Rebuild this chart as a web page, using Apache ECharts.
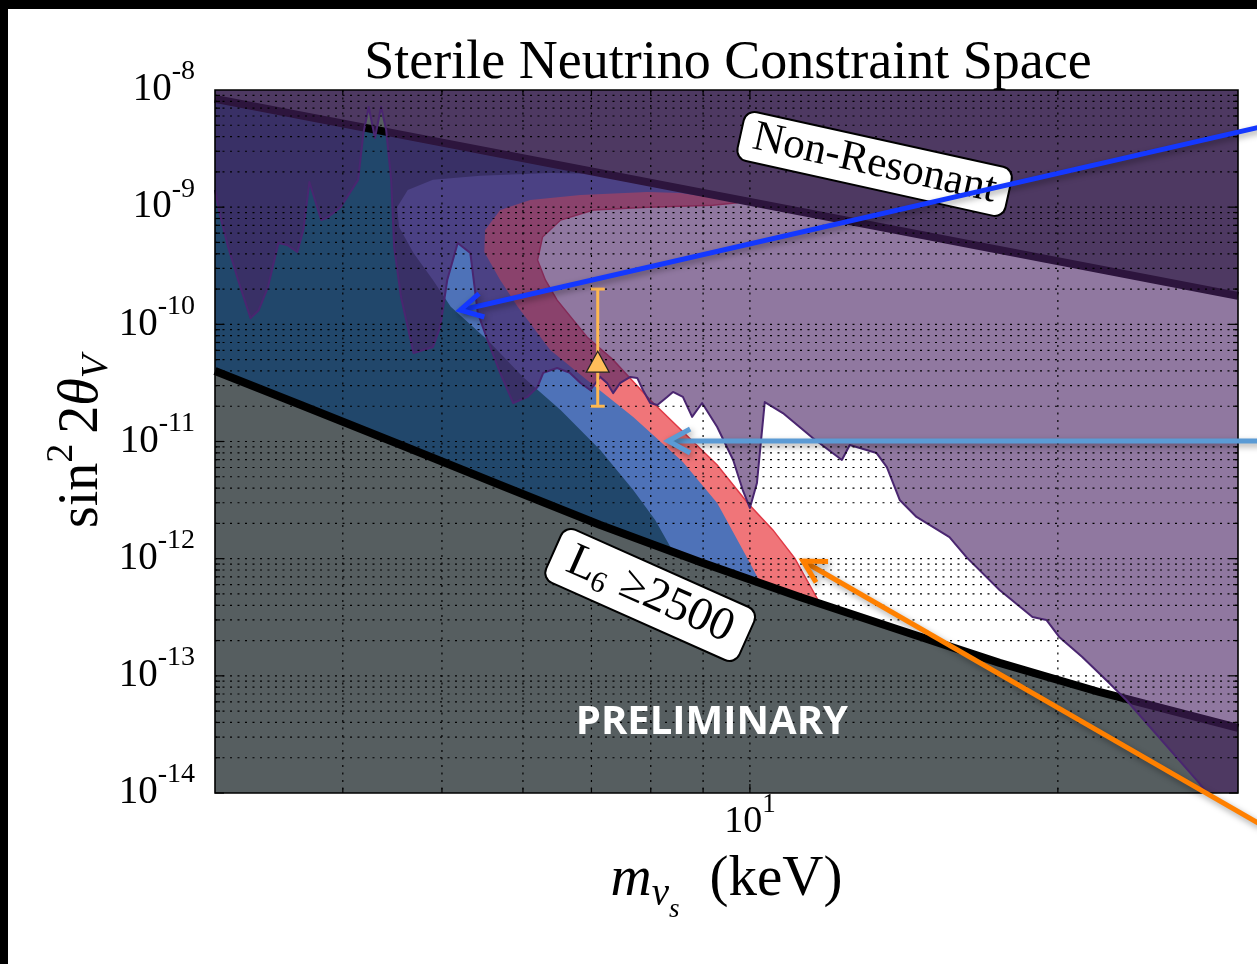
<!DOCTYPE html>
<html>
<head>
<meta charset="utf-8">
<script src="https://cdn.jsdelivr.net/npm/echarts@6.0.0/dist/echarts.min.js"></script>
<style>
html,body{margin:0;padding:0;background:#fff;}
#chart{position:absolute;left:0;top:0;width:1257px;height:964px;}
.bar{position:absolute;background:#000;z-index:5;}
</style>
</head>
<body>
<div id="chart"></div>
<div class="bar" style="left:0;top:0;width:1257px;height:9px"></div>
<div class="bar" style="left:0;top:0;width:8px;height:964px"></div>
<script>
// ---------------- data (mass m in keV, mixing sin^2 2θ) ----------------
const xRange = [3, 30];
const yRange = [1e-14, 1e-8];
const xGridValues = [4, 5, 6, 7, 8, 9, 10, 20];
const xMajorValues = [10];
const xLabelValues = [10];
const yDecades = [-14, -13, -12, -11, -10, -9];
const yMantissas = [1, 2, 3, 4, 5, 6, 7, 8, 9];

// Non-resonant production boundary (excluded above)
const nonResonantBoundary = [[3, 8.4e-9], [30, 1.75e-10]];
// L6 >= 2500 boundary (excluded below)
const l6Boundary = [[3.0, 4.0e-11], [3.64, 2.05e-11], [4.56, 9.33e-12], [5.70, 4.25e-12], [7.14, 1.94e-12],
  [8.94, 9.37e-13], [11.19, 4.71e-13], [14.01, 2.46e-13], [17.54, 1.29e-13], [21.95, 7.28e-14], [30, 3.59e-14]];
// X-ray constraint (excluded above)
const xrayBoundary = [[3.0, 1.40e-9], [3.03, 8.9e-10], [3.09, 4.57e-10], [3.16, 2.39e-10], [3.25, 1.13e-10],
  [3.31, 1.32e-10], [3.38, 2.08e-10], [3.46, 4.94e-10], [3.53, 4.75e-10], [3.61, 4.14e-10], [3.66, 6.38e-10],
  [3.71, 1.64e-9], [3.81, 7.76e-10], [3.87, 8.24e-10], [3.98, 1.0e-9], [4.14, 1.71e-9], [4.19, 4.30e-9],
  [4.24, 7.16e-9], [4.30, 3.89e-9], [4.36, 7.16e-9], [4.41, 4.56e-9], [4.46, 1.71e-9], [4.49, 4.57e-10],
  [4.56, 1.71e-10], [4.69, 5.69e-11], [4.90, 6.41e-11], [4.98, 9.49e-11], [5.06, 2.39e-10], [5.18, 4.94e-10],
  [5.33, 4.06e-10], [5.42, 1.25e-10], [5.54, 7.35e-11], [5.70, 3.85e-11], [5.87, 2.13e-11], [6.06, 2.40e-11],
  [6.20, 2.92e-11], [6.28, 3.85e-11], [6.48, 4.24e-11], [6.67, 3.85e-11], [6.83, 3.16e-11], [6.98, 2.75e-11],
  [7.14, 3.56e-11], [7.25, 3.16e-11], [7.35, 2.59e-11], [7.47, 3.16e-11], [7.64, 3.56e-11], [7.76, 3.49e-11],
  [7.86, 2.75e-11], [7.99, 2.13e-11], [8.12, 2.05e-11], [8.30, 2.40e-11], [8.41, 2.65e-11], [8.60, 2.40e-11],
  [8.78, 1.62e-11], [8.98, 2.13e-11], [9.29, 1.33e-11], [9.63, 6.95e-12], [9.84, 3.85e-12], [10.0, 2.71e-12],
  [10.16, 4.43e-12], [10.34, 2.17e-11], [10.77, 1.75e-11], [11.52, 1.07e-11], [12.30, 6.95e-12], [12.52, 9.33e-12],
  [13.30, 7.97e-12], [13.61, 6.05e-12], [14.01, 3.17e-12], [14.55, 2.27e-12], [15.67, 1.53e-12], [16.28, 1.03e-12],
  [17.54, 5.40e-13], [18.89, 3.18e-13], [19.49, 3.00e-13], [20.06, 2.15e-13], [21.13, 1.45e-13], [22.45, 8.69e-14],
  [23.33, 6.22e-14], [27.48, 1.22e-14], [27.98, 1.0e-14]];
// Resonant-production band edges (C-shaped, from upper tip round to the bottom)
const navyBlueEdge = [[10.23, 1.04e-9], [8.94, 1.40e-9], [7.99, 1.71e-9], [7.14, 1.92e-9], [6.38, 1.96e-9],
  [5.45, 1.85e-9], [4.90, 1.71e-9], [4.63, 1.40e-9], [4.52, 1.0e-9], [4.54, 6.78e-10], [4.69, 4.06e-10],
  [4.90, 2.39e-10], [5.10, 1.41e-10], [5.54, 7.35e-11], [6.00, 3.56e-11], [6.53, 1.86e-11], [7.14, 8.47e-12],
  [7.69, 3.85e-12], [8.08, 2.14e-12], [8.45, 1.07e-12], [9.35, 1e-14]];
const blueRedEdge = [[9.67, 1.13e-9], [8.55, 1.32e-9], [7.94, 1.35e-9], [6.83, 1.27e-9], [6.10, 1.15e-9],
  [5.70, 9.46e-10], [5.51, 6.38e-10], [5.50, 4.14e-10], [5.70, 2.39e-10], [5.93, 1.41e-10], [6.38, 6.04e-11],
  [6.93, 3.35e-11], [7.69, 1.62e-11], [8.60, 6.68e-12], [9.29, 2.99e-12], [9.84, 1.19e-12], [10.27, 5.96e-13],
  [11.19, 1e-14]];
const redWhiteEdge = [[9.71, 1.09e-9], [9.20, 1.04e-9], [7.94, 1.0e-9], [7.03, 9.46e-10], [6.53, 7.76e-10],
  [6.27, 5.56e-10], [6.20, 3.54e-10], [6.31, 2.39e-10], [6.48, 1.61e-10], [6.93, 7.80e-11], [7.35, 4.97e-11],
  [7.99, 2.26e-11], [8.60, 1.21e-11], [9.29, 6.31e-12], [9.95, 2.99e-12], [10.53, 1.76e-12], [11.06, 1.01e-12],
  [11.70, 4.19e-13], [13.10, 1e-14]];
// 3.5 keV line candidate (mass, value) and its error bar (mass, low, high)
const candidatePoint = [[7.1, 4.8e-11]];
const candidateError = [[7.1, 2.0e-11, 2.0e-10]];
// annotations (anchored in data coordinates)
const boxLabels = [
  {kind: 'nr', at: [13.24, 2.34e-9], angle: -12.5},
  {kind: 'l6', at: [7.99, 4.9e-13], angle: -24},
  {kind: 'pre', at: [9.18, 3.96e-14], angle: 0}
];
const arrowSpecs = [
  {from: [31.5, 4.82e-9], to: [5.21, 1.32e-10], color: '#1438ff'},
  {from: [31.5, 1.01e-11], to: [8.32, 1.01e-11], color: '#5b9bd5'},
  {from: [31.5, 5.44e-15], to: [11.27, 9.55e-13], color: '#ff8000'}
];

// ---------------- helpers ----------------
const L = v => Math.log10(v);
const XMIN = L(xRange[0]), XMAX = L(xRange[1]), YMIN = L(yRange[0]), YMAX = L(yRange[1]);
const serif = 'Liberation Serif';

function leftOf(edge) {
  return [[xRange[0], yRange[1]], [edge[0][0], yRange[1]]].concat(edge, [[xRange[0], yRange[0]]]);
}
function polygonSeries(id, pts, style, z) {
  const data = pts.map(p => [L(p[0]), L(p[1])]);
  return {
    type: 'custom', id: id, z: z, silent: true, clip: true,
    coordinateSystem: 'cartesian2d', encode: {x: 0, y: 1},
    data: data,
    renderItem: function (params, api) {
      if (params.dataIndex !== 0) return null;
      return {type: 'polygon', shape: {points: data.map(d => api.coord(d))}, style: style};
    }
  };
}
function lineSeries(id, pts, color, width, z) {
  return {
    type: 'line', id: id, z: z, silent: true, showSymbol: false, symbol: 'none', clip: true,
    data: pts.map(p => [L(p[0]), L(p[1])]),
    lineStyle: {color: color, width: width, cap: 'butt', join: 'round'}
  };
}

const chart = echarts.init(document.getElementById('chart'), null, {renderer: 'canvas'});

const option = {
  animation: false,
  backgroundColor: '#fff',
  title: {
    text: 'Sterile Neutrino Constraint Space', left: 728, top: 35, textAlign: 'center', padding: 0,
    textStyle: {fontFamily: serif, fontSize: 54, fontWeight: 'normal', color: '#000', lineHeight: 58}
  },
  grid: {left: 215, right: 19, top: 90, bottom: 171, containLabel: false, outerBoundsMode: 'none'},
  xAxis: {
    type: 'value', min: XMIN, max: XMAX,
    axisLine: {show: false}, axisTick: {show: false}, splitLine: {show: false},
    axisLabel: {
      customValues: xLabelValues.map(L), margin: 10, color: '#000',
      formatter: v => '{b|10}{s|' + Math.round(v) + '}',
      rich: {
        b: {fontFamily: serif, fontSize: 38, lineHeight: 38, color: '#000'},
        s: {fontFamily: serif, fontSize: 27, height: 4, lineHeight: 4, verticalAlign: 'top', color: '#000'}
      }
    },
    name: '{i|m}{s1|ν}{s2|s}{g| }{a|(keV)}', nameLocation: 'middle', nameGap: 47, nameMoveOverlap: false,
    nameTextStyle: {
      color: '#000',
      rich: {
        i: {fontFamily: serif, fontStyle: 'italic', fontSize: 57, lineHeight: 80, color: '#000'},
        s1: {fontFamily: serif, fontStyle: 'italic', fontSize: 39, height: 50, lineHeight: 50, verticalAlign: 'bottom', color: '#000'},
        s2: {fontFamily: serif, fontStyle: 'italic', fontSize: 27, height: 20, lineHeight: 20, verticalAlign: 'bottom', color: '#000'},
        g: {fontSize: 20, width: 30},
        a: {fontFamily: serif, fontSize: 57, lineHeight: 80, color: '#000'}
      }
    }
  },
  yAxis: {
    type: 'value', min: YMIN, max: YMAX, interval: 1,
    axisLine: {show: false}, axisTick: {show: false}, splitLine: {show: false},
    axisLabel: {
      margin: 20, color: '#000', showMinLabel: true, showMaxLabel: true,
      formatter: v => '{b|10}{s|' + Math.round(v) + '}',
      rich: {
        b: {fontFamily: serif, fontSize: 39, lineHeight: 38, color: '#000'},
        s: {fontFamily: serif, fontSize: 28, height: 2, lineHeight: 2, verticalAlign: 'top', color: '#000'}
      }
    },
    name: '{a|sin}{b|2}{g| }{a|2}{i|θ}{d|V}', nameLocation: 'middle', nameRotate: 90, nameGap: 98, nameMoveOverlap: false,
    nameTextStyle: {
      color: '#000',
      rich: {
        a: {fontFamily: serif, fontSize: 56, lineHeight: 70, color: '#000'},
        b: {fontFamily: serif, fontSize: 38, height: 30, lineHeight: 30, verticalAlign: 'top', color: '#000'},
        g: {fontSize: 14, width: 10},
        i: {fontFamily: serif, fontStyle: 'italic', fontSize: 56, lineHeight: 70, color: '#000'},
        d: {fontFamily: serif, fontStyle: 'italic', fontSize: 38, height: 40, lineHeight: 40, verticalAlign: 'bottom', color: '#000'}
      }
    }
  },
  series: [
    polygonSeries('red', leftOf(redWhiteEdge), {fill: '#f07579', stroke: '#e03a46', lineWidth: 1.5}, 1),
    polygonSeries('blue', leftOf(blueRedEdge), {fill: '#4e72b8'}, 2),
    polygonSeries('navy', leftOf(navyBlueEdge), {fill: '#21476b'}, 3),
    polygonSeries('nrFill', nonResonantBoundary.concat([[xRange[1], yRange[1]], [xRange[0], yRange[1]]]), {fill: '#565e60'}, 4),
    polygonSeries('l6Fill', l6Boundary.concat([[xRange[1], yRange[0]], [xRange[0], yRange[0]]]), {fill: '#565e60'}, 4),
    lineSeries('nrLine', nonResonantBoundary, '#000', 8, 5),
    lineSeries('l6Line', l6Boundary, '#000', 8, 5),
    polygonSeries('xrayFill', xrayBoundary.concat([[xRange[1], yRange[0]], [xRange[1], yRange[1]], [xRange[0], yRange[1]]]), {fill: 'rgba(73,34,99,0.61)'}, 6),
    lineSeries('xrayLine', xrayBoundary, '#4a2670', 2, 7),
    {
      type: 'custom', id: 'gridlines', z: 8, silent: true, clip: false,
      data: [[XMIN, YMIN]],
      renderItem: function (params, api) {
        if (params.dataIndex !== 0) return null;
        const bl = api.coord([XMIN, YMIN]), tr = api.coord([XMAX, YMAX]);
        const left = bl[0], bottom = bl[1], right = tr[0], top = tr[1];
        const ch = [];
        const dot = {stroke: '#000', lineWidth: 1.2, lineDash: [2, 5.5]};
        const solid = {stroke: '#000', lineWidth: 1.2};
        xGridValues.forEach(v => {
          const x = api.coord([L(v), YMIN])[0];
          const len = xMajorValues.indexOf(v) >= 0 ? 9 : 5;
          ch.push({type: 'line', shape: {x1: x, y1: top, x2: x, y2: bottom}, style: dot});
          ch.push({type: 'line', shape: {x1: x, y1: bottom, x2: x, y2: bottom - len}, style: solid});
          ch.push({type: 'line', shape: {x1: x, y1: top, x2: x, y2: top + len}, style: solid});
        });
        yDecades.forEach(n => yMantissas.forEach(k => {
          const y = api.coord([XMIN, n + Math.log10(k)])[1];
          const len = k === 1 ? 9 : 5;
          if (!(n === -14 && k === 1)) ch.push({type: 'line', shape: {x1: left, y1: y, x2: right, y2: y}, style: dot});
          ch.push({type: 'line', shape: {x1: left, y1: y, x2: left + len, y2: y}, style: solid});
          ch.push({type: 'line', shape: {x1: right, y1: y, x2: right - len, y2: y}, style: solid});
        }));
        ch.push({type: 'rect', shape: {x: left, y: top, width: right - left, height: bottom - top},
          style: {stroke: '#000', fill: null, lineWidth: 1.6}});
        return {type: 'group', children: ch};
      }
    },
    {
      type: 'custom', id: 'errorbar', z: 10, silent: true, clip: false,
      data: candidateError.map(d => [L(d[0]), L(d[1]), L(d[2])]),
      renderItem: function (params, api) {
        const x = api.value(0);
        const p1 = api.coord([x, api.value(1)]), p2 = api.coord([x, api.value(2)]);
        const st = {stroke: '#ffb950', lineWidth: 3};
        return {type: 'group', children: [
          {type: 'line', shape: {x1: p1[0], y1: p1[1], x2: p2[0], y2: p2[1]}, style: st},
          {type: 'line', shape: {x1: p1[0] - 7, y1: p1[1], x2: p1[0] + 7, y2: p1[1]}, style: st},
          {type: 'line', shape: {x1: p2[0] - 7, y1: p2[1], x2: p2[0] + 7, y2: p2[1]}, style: st}
        ]};
      }
    },
    {
      type: 'scatter', id: 'candidate', z: 11, silent: true,
      data: candidatePoint.map(p => [L(p[0]), L(p[1])]),
      symbol: 'triangle', symbolSize: [23, 21],
      itemStyle: {color: '#ffbd5a', borderColor: '#222', borderWidth: 1.2, opacity: 1}
    }
  ]
};
chart.setOption(option);

// ---------------- annotations placed through the chart's coordinate conversion ----------------
const px = p => chart.convertToPixel({gridIndex: 0}, [L(p[0]), L(p[1])]);
const graphics = [];
boxLabels.forEach(b => {
  const c = px(b.at);
  const rot = b.angle * Math.PI / 180;
  if (b.kind === 'nr') {
    graphics.push({type: 'text', x: c[0], y: c[1], rotation: rot, z: 90, silent: true,
      style: {text: 'Non-Resonant', fontFamily: serif, fontSize: 43, fill: '#000', align: 'center', verticalAlign: 'middle',
        backgroundColor: '#fff', borderColor: '#000', borderWidth: 2, borderRadius: 10, padding: [2, 12], lineHeight: 44}});
  } else if (b.kind === 'l6') {
    graphics.push({type: 'text', x: c[0], y: c[1], rotation: rot, z: 90, silent: true,
      style: {text: '{a|L}{b|6}{g| }{a|≥2500}', fill: '#000', align: 'center', verticalAlign: 'middle',
        backgroundColor: '#fff', borderColor: '#000', borderWidth: 2, borderRadius: 10, padding: [3, 16],
        rich: {
          a: {fontFamily: serif, fontSize: 47, lineHeight: 50, fill: '#000'},
          b: {fontFamily: serif, fontSize: 30, height: 28, lineHeight: 28, verticalAlign: 'bottom', fill: '#000'},
          g: {fontSize: 20, width: 14}
        }}});
  } else {
    graphics.push({type: 'text', x: c[0], y: c[1], z: 90, silent: true,
      style: {text: 'PRELIMINARY', fontFamily: 'Open Sans', fontWeight: 'bold', fontSize: 40, fill: '#fff',
        align: 'center', verticalAlign: 'middle'}});
  }
});
arrowSpecs.forEach(a => {
  const t = px(a.from), h = px(a.to);
  const dx = h[0] - t[0], dy = h[1] - t[1], len = Math.hypot(dx, dy);
  const ux = dx / len, uy = dy / len, hl = 22, hw = 12;
  const w1 = [h[0] - ux * hl - uy * hw, h[1] - uy * hl + ux * hw];
  const w2 = [h[0] - ux * hl + uy * hw, h[1] - uy * hl - ux * hw];
  const shadow = {shadowBlur: 6, shadowOffsetX: 2, shadowOffsetY: 3, shadowColor: 'rgba(0,0,0,0.35)'};
  graphics.push({type: 'line', z: 100, silent: true, shape: {x1: t[0], y1: t[1], x2: h[0], y2: h[1]},
    style: Object.assign({stroke: a.color, lineWidth: 5}, shadow)});
  graphics.push({type: 'polyline', z: 100, silent: true, shape: {points: [w1, h, w2]},
    style: Object.assign({stroke: a.color, lineWidth: 5, fill: null, lineJoin: 'miter'}, shadow)});
});
chart.setOption({graphic: graphics});
</script>
</body>
</html>
